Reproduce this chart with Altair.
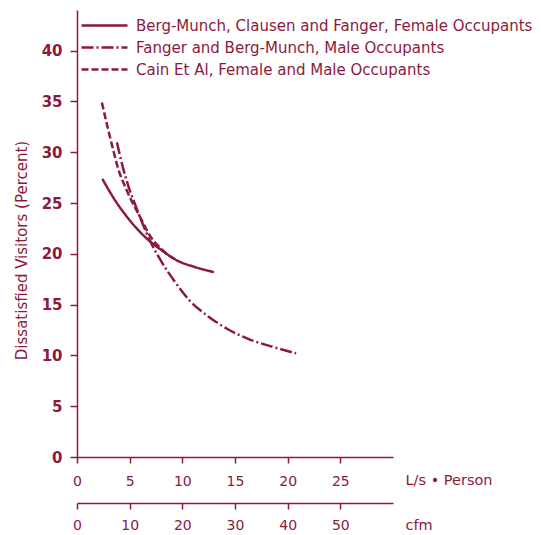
import altair as alt
import pandas as pd

RED = "#8b1a3c"
FONT = "DejaVu Sans"

series_names = [
    "Berg-Munch, Clausen and Fanger, Female Occupants",
    "Fanger and Berg-Munch, Male Occupants",
    "Cain Et Al, Female and Male Occupants",
]

# L/s per person vs percent dissatisfied
berg_x = [2.41, 3.63, 4.9, 6.49, 8.08, 9.51, 11.26, 13.0]
berg_y = [27.37, 25.24, 23.44, 21.63, 20.32, 19.34, 18.68, 18.19]

fanger_x = [3.79, 4.27, 4.9, 5.5, 6.17, 6.97, 7.92, 9.19, 10.78, 12.38, 14.28, 16.19, 18.73, 20.8]
fanger_y = [30.97, 28.85, 26.6, 24.9, 23.1, 21.2, 19.4, 17.4, 15.3, 13.9, 12.6, 11.65, 10.8, 10.2]

cain_x = [2.36, 2.99, 3.46, 3.79, 4.74, 6.17, 6.8, 8.08, 9.51]
cain_y = [34.9, 32.1, 30.15, 28.8, 26.2, 23.27, 22.0, 20.4, 19.35]

ls_ticks = [0, 5, 10, 15, 20, 25]
cfm_ticks = [0, 10, 20, 30, 40, 50]
pct_ticks = [0, 5, 10, 15, 20, 25, 30, 35, 40]

rows = []
for name, xs, ys in zip(series_names, [berg_x, fanger_x, cain_x], [berg_y, fanger_y, cain_y]):
    for x, y in zip(xs, ys):
        rows.append({"series": name, "ls": x, "pct": y})
df = pd.DataFrame(rows)

lines = alt.Chart(df).mark_line(color=RED, strokeWidth=2.5, interpolate="monotone").encode(
    x=alt.X(
        "ls:Q",
        scale=alt.Scale(domain=[0, 30], nice=False, zero=False),
        axis=alt.Axis(
            values=ls_ticks, orient="bottom", title="L/s • Person",
            tickSize=6, labelPadding=11, labelFontSize=14, labelFlush=False,
            titleX=328, titleY=23, titleAlign="left", titleBaseline="middle",
            titleFontSize=14.5, titleFontWeight="normal",
        ),
    ),
    y=alt.Y(
        "pct:Q",
        scale=alt.Scale(domain=[0, 44], nice=False),
        axis=alt.Axis(
            values=pct_ticks, title="Dissatisfied Visitors (Percent)",
            tickSize=7, labelPadding=8, labelFontSize=15, labelFontWeight="bold",
            titleX=-56, titleY=240, titleAlign="center", titleBaseline="middle",
            titleAngle=-90, titleFontSize=15, titleFontWeight="normal",
        ),
    ),
    strokeDash=alt.StrokeDash(
        "series:N",
        scale=alt.Scale(domain=series_names, range=[[1, 0], [12, 3, 2, 3], [7, 3]]),
        legend=alt.Legend(
            orient="none", legendX=16, legendY=4, padding=0, title=None,
            symbolType="M-2.3,0L2.3,0", symbolSize=400,
            symbolStrokeColor=RED, symbolStrokeWidth=2.5,
            labelOffset=20, labelFontSize=15, labelColor=RED, labelFont=FONT,
            labelLimit=600, rowPadding=2,
        ),
    ),
)

cfm_df = pd.DataFrame({"cfm": cfm_ticks})
cfm_layer = alt.Chart(cfm_df).mark_point(opacity=0).encode(
    x=alt.X(
        "cfm:Q",
        scale=alt.Scale(domain=[0, 60], nice=False),
        axis=alt.Axis(
            values=cfm_ticks, orient="bottom", offset=46, title="cfm",
            tickSize=6, labelPadding=9, labelFontSize=14, labelFlush=False,
            titleX=328, titleY=22, titleAlign="left", titleBaseline="middle",
            titleFontSize=14.5, titleFontWeight="normal",
        ),
    ),
)

chart = (
    alt.layer(lines, cfm_layer)
    .resolve_scale(x="independent")
    .properties(
        width=316, height=447,
        autosize=alt.AutoSizeParams(type="none"),
        padding={"left": 69, "top": 2, "right": 140, "bottom": 80},
    )
    .configure_view(stroke=None)
    .configure_axis(
        grid=False, domainColor=RED, tickColor=RED, labelColor=RED, titleColor=RED,
        labelFont=FONT, titleFont=FONT, domainWidth=1.5, tickWidth=1.5,
    )
)

chart.save("out.html", embed_options={"renderer": "svg", "actions": False})
